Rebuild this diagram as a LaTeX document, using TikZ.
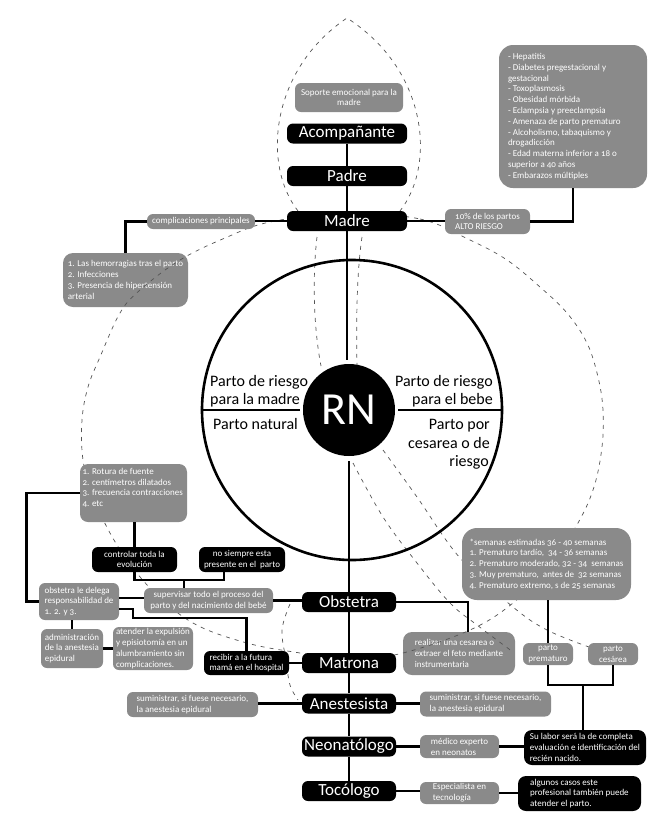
\documentclass[tikz,border=0pt]{standalone}
\usepackage{fontspec}
\setmainfont{Carlito}[Numbers=OldStyle]
\definecolor{boxgray}{RGB}{138,138,138}
\definecolor{dashgray}{RGB}{85,85,85}
\begin{document}
\begin{tikzpicture}[x=1pt,y=-1pt,
  namebox/.style={fill=black,text=white,rounded corners=6pt,inner sep=0pt,minimum height=20pt,font=\fontsize{17}{20}\selectfont},
  gbox/.style={fill=boxgray,text=white,rounded corners=6pt,inner xsep=3pt,inner ysep=1pt,font=\fontsize{9}{10.8}\selectfont},
  bbox/.style={gbox,fill=black},
  conn/.style={line width=2.8pt},
  dsh/.style={draw=dashgray,line width=0.7pt,dash pattern=on 4pt off 5pt},
  ptext/.style={font=\fontsize{16}{18}\selectfont,inner sep=0pt}]

\fill[white] (0,0) rectangle (670,828);
\useasboundingbox (0,0) rectangle (670,828);

% boxes that lie under the dashed lines
\node[gbox,rounded corners=10pt,minimum width=125pt,minimum height=54pt,align=left] (hemorr) at (125.5,280) {1. Las hemorragias tras el parto\\2. Infecciones\\3. Presencia de hipertensión\\arterial};
\node[gbox,rounded corners=9pt,minimum width=112pt,minimum height=43pt,align=left] (realizar) at (459,653.5) {realizar una cesarea o\\extraer el feto mediante\\instrumentaria};

% dashed curves
\draw[dsh] plot[smooth cycle, tension=0.6] coordinates {(345,213) (420,219) (470,240) (507,260) (540,287) (567,313) (587,343) (598,377) (603,410) (602,447) (594,487) (578,523) (550,565) (513,603) (470,630) (403,653) (350,660) (300,653) (247,643) (193,623) (150,588) (117,545) (93,497) (83,460) (82,420) (88,387) (100,357) (120,313) (140,290) (180,260) (225,238) (270,222)};
\draw[dsh] (298,211) .. controls (262,165) and (270,70) .. (347,18) .. controls (428,70) and (436,165) .. (400,211);
\draw[dsh] (317,237) .. controls (312,280) and (314,330) .. (321,366);
\draw[dsh] (362,237) .. controls (357,270) and (356,320) .. (357,365);
\draw[dsh] plot[smooth, tension=0.6] coordinates {(383,450) (417,497) (460,558) (513,607) (547,630) (589,647)};
\draw[dsh] plot[smooth, tension=0.6] coordinates {(353,463) (383,517) (417,563) (450,603) (477,625) (513,652)};
\draw[dsh] plot[smooth, tension=0.6] coordinates {(290,604) (282,630) (286,660) (290,685) (298,700)};

% central ring
\node[circle,draw,line width=2.6pt,minimum size=300pt,inner sep=0pt] (ring) at (352,410) {};
\node[circle,fill=black,text=white,minimum size=92pt,inner sep=0pt,font=\fontsize{46}{46}\selectfont] (rn) at (349,410) {RN};
\node[ptext,anchor=base west] (t1a) at (210,386) {Parto de riesgo};
\node[ptext,anchor=base west] (t1b) at (210,404) {para la madre};
\node[ptext,anchor=base west] (t2) at (213,429) {Parto natural};
\node[ptext,anchor=base east] (t3a) at (493,386) {Parto de riesgo};
\node[ptext,anchor=base east] (t3b) at (493,404) {para el bebe};
\node[ptext,anchor=base east] (t4a) at (490,429) {Parto por};
\node[ptext,anchor=base east] (t4b) at (490,448) {cesarea o de};
\node[ptext,anchor=base east] (t4c) at (489,466) {riesgo};

% upper part
\node[gbox,minimum width=108pt,minimum height=29pt,align=center] (soporte) at (349,97.5) {Soporte emocional para la\\madre};
\node[namebox,minimum width=120pt] (acomp) at (347,133.5) {Acompañante};
\node[namebox,minimum width=120pt] (padre) at (347,176) {Padre};
\node[namebox,minimum width=120pt] (madre) at (347,221) {Madre};
\node[gbox,minimum width=108pt,minimum height=15pt,align=center] (compl) at (201,221.5) {complicaciones principales};
\node[gbox,minimum width=85pt,minimum height=25pt,align=left] (alto) at (487.5,221.5) {10\% de los partos\\ALTO RIESGO};
\node[gbox,rounded corners=14pt,inner xsep=9pt,minimum width=148pt,minimum height=143pt] (list) at (573,116.5) {\parbox{130pt}{\raggedright - Hepatitis\\- Diabetes pregestacional y\\gestacional\\- Toxoplasmosis\\- Obesidad mórbida\\- Eclampsia y preeclampsia\\- Amenaza de parto prematuro\\- Alcoholismo, tabaquismo y\\drogadicción\\- Edad materna inferior a 18 o\\superior a 40 años\\- Embarazos múltiples}};

% lower left
\node[gbox,rounded corners=8pt,inner xsep=2.5pt,minimum width=107pt,minimum height=58pt] (rotura) at (133.5,493) {\parbox[c][50pt][t]{102pt}{\raggedright 1. Rotura de fuente\\2. centímetros dilatados\\3. frecuencia contracciones\\4. etc}};
\node[bbox,minimum width=85pt,minimum height=25pt,align=center] (controlar) at (134.5,559.5) {controlar toda la\\evolución};
\node[bbox,minimum width=86pt,minimum height=25pt,align=center] (nosiempre) at (242,559.5) {no siempre esta\\presente en el\ \ parto};
\node[gbox,minimum width=129pt,minimum height=25pt,align=center] (supervisar) at (208.5,600.5) {supervisar todo el proceso del\\parto y del nacimiento del bebé};
\node[gbox,minimum width=80pt,minimum height=37pt,align=left] (delega) at (79,601.5) {obstetra le delega\\responsabilidad de\\1. 2. y 3.};
\node[gbox,minimum width=62pt,minimum height=39pt,align=left] (admin) at (72,648.5) {administración\\de la anestesia\\epidural};
\node[gbox,minimum width=80pt,minimum height=43pt,align=left] (atender) at (153,648.5) {atender la expulsión\\y episiotomía en un\\alumbramiento sin\\complicaciones.};
\node[bbox,minimum width=85pt,minimum height=24pt,align=left] (recibir) at (246.5,663) {recibir a la futura\\mamá en el hospital};
\node[gbox,minimum width=131pt,minimum height=25pt,align=left] (sumL) at (192.5,704.5) {suministrar, si fuese necesario,\\la anestesia epidural};

% central column
\node[namebox,minimum width=94pt] (obstetra) at (349,602) {Obstetra};
\node[namebox,minimum width=94pt] (matrona) at (349,663) {Matrona};
\node[namebox,minimum width=94pt] (anest) at (349,703.5) {Anestesista};
\node[namebox,minimum width=94pt] (neonat) at (349,746.5) {Neonatólogo};
\node[namebox,minimum width=94pt] (tocol) at (349,791) {Tocólogo};

% lower right
\node[gbox,rounded corners=15pt,minimum width=169pt,minimum height=72pt,align=left] (semanas) at (546.5,564) {*semanas estimadas 36 - 40 semanas\\1. Prematuro tardío,\ \ 34 - 36 semanas\\2. Prematuro moderado, 32 - 34\ \ semanas\\3. Muy prematuro,\ \ antes de\ \ 32 semanas\\4. Prematuro extremo, s de 25 semanas};
\node[gbox,minimum width=50pt,minimum height=22pt,align=center] (prem) at (548,654) {parto\\prematuro};
\node[gbox,minimum width=50pt,minimum height=22pt,align=center] (ces) at (613,654) {parto\\cesárea};
\node[gbox,minimum width=131pt,minimum height=25pt,align=left] (sumR) at (485.5,704) {suministrar, si fuese necesario,\\la anestesia epidural};
\node[gbox,minimum width=79pt,minimum height=23pt,align=left] (medico) at (459.5,746.5) {médico experto\\en neonatos};
\node[bbox,rounded corners=8pt,minimum width=122pt,minimum height=35pt,align=left] (sulabor) at (585,747.5) {Su labor será la de completa\\evaluación e identificación del\\recién nacido.};
\node[gbox,minimum width=79pt,minimum height=22pt,align=left] (especialista) at (459.5,793) {Especialista en\\tecnología};
\node[bbox,rounded corners=8pt,minimum width=123pt,minimum height=35pt,align=left] (algunos) at (579.5,793.5) {algunos casos este\\profesional también puede\\atender el parto.};

% connectors
\draw[conn] (acomp) -- (padre);
\draw[conn] (padre) -- (madre);
\draw[conn] (madre.west) -- (madre.west -| compl.east);
\draw[conn] (compl.west) -| (hemorr.north);
\draw[conn] (madre.east) -- (madre.east -| alto.west);
\draw[conn] (list.south) |- (alto.east);
\draw[conn,shorten >=4pt] (madre.south) -- (madre.south |- rn.north);
\draw[conn,shorten >=3pt] (ring.west) -- (rn.west);
\draw[conn,shorten >=3pt] (ring.east) -- (rn.east);
\draw[conn,shorten <=5pt] (rn.south) -- (obstetra.north);
\draw[conn] (obstetra) -- (matrona);
\draw[conn] (matrona) -- (anest);
\draw[conn] (anest) -- (neonat);
\draw[conn] (neonat) -- (tocol);
\draw[conn] (controlar.north |- rotura.south) -- (controlar.north);
\coordinate (j1) at (184,580);
\draw[conn] (controlar.south) |- (j1) -| ([xshift=-18pt]nosiempre.south);
\draw[conn] (j1) -- (j1 |- supervisar.north);
\draw[conn] (rotura.west) -- ++(-53,0) |- (delega.west);
\draw[conn] (delega.east |- 0,598) -- (supervisar.west |- 0,598);
\draw[conn] (delega.east |- 0,609) -- (133,609) -- (133,618) -| (recibir.north);
\draw[conn] (supervisar.east) -- (supervisar.east -| obstetra.west);
\draw[conn] (admin.north) -- (admin.north |- delega.south);
\draw[conn] (admin.east) -- (admin.east -| atender.west);
\draw[conn] (recibir.east) -- (recibir.east -| matrona.west);
\draw[conn] (obstetra.east) -| ([xshift=9pt]realizar.north);
\draw[conn] (prem.north |- semanas.south) -- (prem.north);
\coordinate (j2) at (583,685);
\draw[conn] (prem.south) |- (j2) -| (ces.south);
\draw[conn] (j2) -- (j2 |- sulabor.north);
\draw[conn] (anest.west) -- (anest.west -| sumL.east);
\draw[conn] (anest.east) -- (anest.east -| sumR.west);
\draw[conn] (neonat.east) -- (neonat.east -| medico.west);
\draw[conn] (medico.east) -- (medico.east -| sulabor.west);
\draw[conn] (tocol.east) -- (tocol.east -| especialista.west);
\draw[conn] (especialista.east) -- (especialista.east -| algunos.west);
\end{tikzpicture}
\end{document}
